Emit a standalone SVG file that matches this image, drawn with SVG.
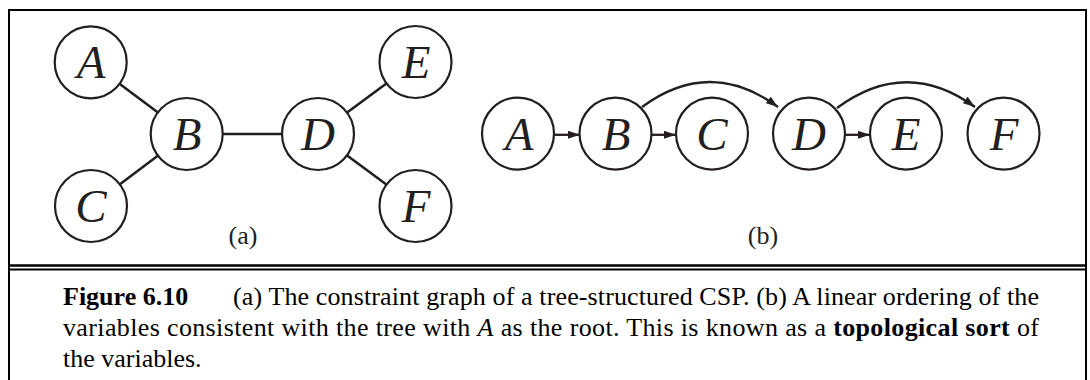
<svg xmlns="http://www.w3.org/2000/svg" width="1090" height="380" viewBox="0 0 1090 380">
<style>
.frame{fill:none;stroke:#000;stroke-width:2}
.node circle{fill:#fff;stroke:#231f20;stroke-width:2.2}
.node text{font-family:"Liberation Serif","Times New Roman",serif;font-style:italic;font-size:47px;fill:#231f20;text-anchor:middle}
.edge{stroke:#231f20;stroke-width:2.6;fill:none}
.arc{stroke:#231f20;stroke-width:2.3;fill:none}
.lbl{font-family:"Liberation Serif","Times New Roman",serif;font-size:26px;fill:#231f20;text-anchor:middle}
.cap{font-family:"Liberation Serif","Times New Roman",serif;font-size:26px;fill:#000}
</style>
<defs>
<marker id="ah" markerUnits="userSpaceOnUse" markerWidth="13" markerHeight="9" refX="12" refY="4" orient="auto">
<path d="M0,0 L12,4 L0,8 z" fill="#231f20"/>
</marker>
</defs>
<rect width="1090" height="380" fill="#fff"/>
<g id="frame">
<path class="frame" d="M9,381 V10 H1086 V381"/>
<line x1="9" y1="265.5" x2="1086" y2="265.5" stroke="#000" stroke-width="2.6"/>
<line x1="9" y1="269.5" x2="1086" y2="269.5" stroke="#000" stroke-width="2"/>
</g>
<g id="connectors">
<line class="edge" x1="90.7" y1="62.3" x2="186.7" y2="134"/>
<line class="edge" x1="91" y1="206" x2="186.7" y2="134"/>
<line class="edge" x1="186.7" y1="134" x2="318" y2="134"/>
<line class="edge" x1="318" y1="134" x2="415.5" y2="62"/>
<line class="edge" x1="318" y1="134" x2="415.5" y2="206"/>
<line class="arc" x1="554" y1="134.8" x2="580" y2="134.8" marker-end="url(#ah)"/>
<line class="arc" x1="651" y1="134.8" x2="676" y2="134.8" marker-end="url(#ah)"/>
<line class="arc" x1="845" y1="134.8" x2="870" y2="134.8" marker-end="url(#ah)"/>
<path class="arc" d="M642,107 Q710,57 778,107" marker-end="url(#ah)"/>
<path class="arc" d="M837,108 Q906,57 975,107" marker-end="url(#ah)"/>
</g>
<g id="a-A" class="node"><circle cx="90.7" cy="62.3" r="36"/><text x="91" y="78">A</text></g>
<g id="a-B" class="node"><circle cx="186.7" cy="134" r="36"/><text x="187" y="150">B</text></g>
<g id="a-C" class="node"><circle cx="91" cy="206" r="36"/><text x="91" y="222">C</text></g>
<g id="a-D" class="node"><circle cx="318" cy="134" r="36"/><text x="318" y="150">D</text></g>
<g id="a-E" class="node"><circle cx="415.5" cy="62" r="36"/><text x="416" y="78">E</text></g>
<g id="a-F" class="node"><circle cx="415.5" cy="206" r="36"/><text x="416" y="222">F</text></g>
<g id="b-A" class="node"><circle cx="518" cy="133.6" r="36"/><text x="519" y="150">A</text></g>
<g id="b-B" class="node"><circle cx="615.5" cy="133.6" r="36"/><text x="616" y="150">B</text></g>
<g id="b-C" class="node"><circle cx="712" cy="133.6" r="36"/><text x="712" y="150">C</text></g>
<g id="b-D" class="node"><circle cx="809" cy="133.6" r="36"/><text x="809" y="150">D</text></g>
<g id="b-E" class="node"><circle cx="906" cy="133.6" r="36"/><text x="906" y="150">E</text></g>
<g id="b-F" class="node"><circle cx="1003.5" cy="133.6" r="36"/><text x="1004" y="150">F</text></g>
<text class="lbl" x="243" y="244">(a)</text>
<text class="lbl" x="763" y="244">(b)</text>
<g id="caption">
<text class="cap" x="63" y="305" font-weight="bold">Figure 6.10</text>
<text class="cap" x="233" y="305" textLength="806" lengthAdjust="spacing">(a) The constraint graph of a tree-structured CSP. (b) A linear ordering of the</text>
<text class="cap" x="63" y="336" textLength="976" lengthAdjust="spacing">variables consistent with the tree with <tspan font-style="italic">A</tspan> as the root.  This is known as a <tspan font-weight="bold">topological sort</tspan> of</text>
<text class="cap" x="63" y="367">the variables.</text>
</g>
</svg>
